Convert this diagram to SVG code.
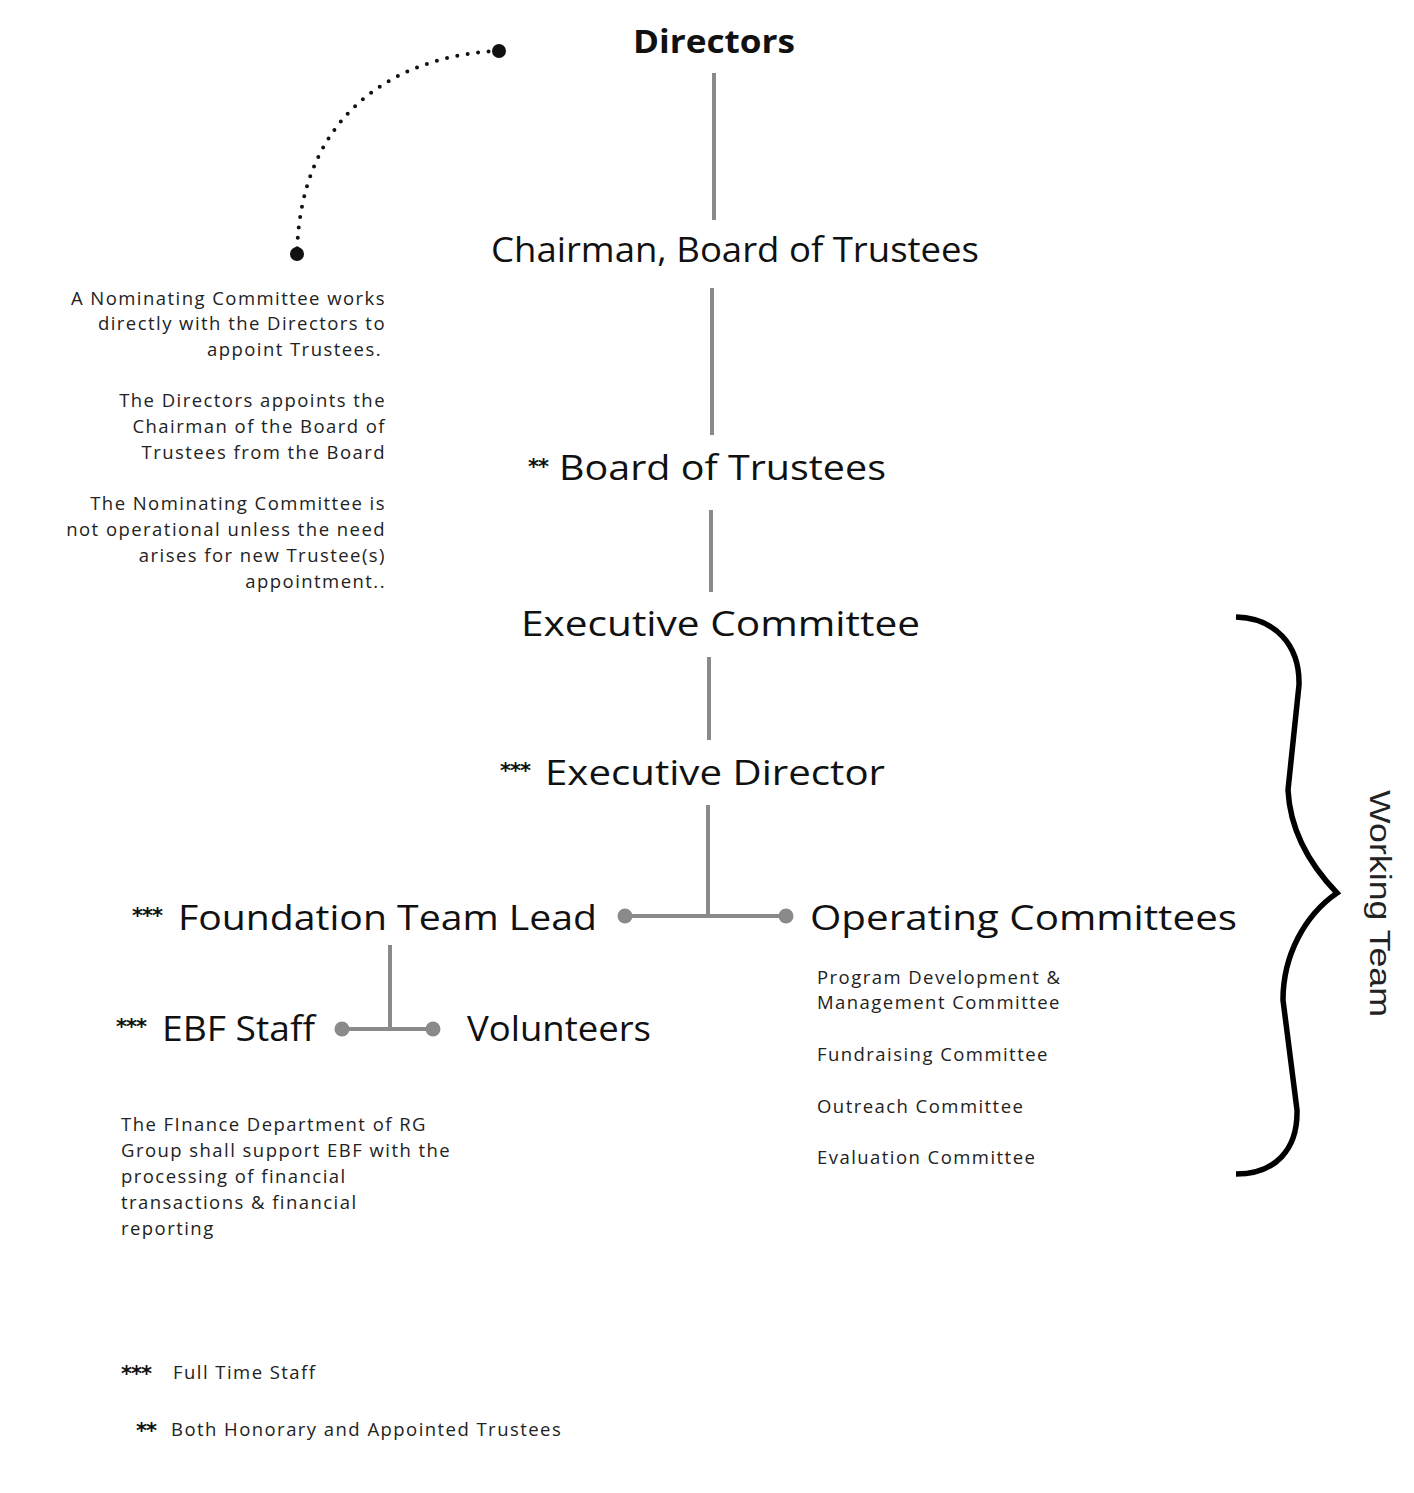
<svg xmlns="http://www.w3.org/2000/svg" width="1414" height="1493" viewBox="0 0 1414 1493">
<style>
.t{font-family:"Open Sans","DejaVu Sans",sans-serif;fill:#111}
.big{font-size:35px}
.note{font-size:18.5px;fill:#222;letter-spacing:1.45px}
.ast{font-family:"DejaVu Sans",sans-serif;font-weight:bold;font-size:21px;fill:#111;letter-spacing:-1px}
.ln{stroke:#8a8a8a;stroke-width:4;fill:none}
.dot{fill:#8a8a8a}
</style>
<rect width="1414" height="1493" fill="#fff"/>
<g id="connectors">
<line class="ln" x1="714" y1="73" x2="714" y2="220"/>
<line class="ln" x1="712" y1="288" x2="712" y2="435"/>
<line class="ln" x1="711" y1="510" x2="711" y2="592"/>
<line class="ln" x1="709" y1="657" x2="709" y2="740"/>
<line class="ln" x1="708" y1="805" x2="708" y2="916"/>
<line class="ln" x1="625" y1="916" x2="786" y2="916"/>
<circle class="dot" cx="625" cy="916" r="7.5"/>
<circle class="dot" cx="786" cy="916" r="7.5"/>
<line class="ln" x1="390" y1="945" x2="390" y2="1029"/>
<line class="ln" x1="342" y1="1029" x2="433" y2="1029"/>
<circle class="dot" cx="342" cy="1029" r="7.5"/>
<circle class="dot" cx="433" cy="1029" r="7.5"/>
<path d="M499,51 C400,55 300,110 297,254" fill="none" stroke="#111" stroke-width="4" stroke-linecap="round" stroke-dasharray="0 10.5"/>
<circle cx="499" cy="51" r="7" fill="#111"/>
<circle cx="297" cy="254" r="7" fill="#111"/>
</g>
<g id="directors"><text class="t" x="714" y="53" font-size="32" font-weight="bold" text-anchor="middle" textLength="162" lengthAdjust="spacingAndGlyphs">Directors</text></g>
<g id="chairman"><text class="t big" x="491" y="262" textLength="488" lengthAdjust="spacingAndGlyphs">Chairman, Board of Trustees</text></g>
<g id="board"><text class="ast" x="528" y="474">**</text><text class="t big" x="559" y="480" textLength="327" lengthAdjust="spacingAndGlyphs">Board of Trustees</text></g>
<g id="exec-committee"><text class="t big" x="521" y="636" textLength="399" lengthAdjust="spacingAndGlyphs">Executive Committee</text></g>
<g id="exec-director"><text class="ast" x="500" y="778">***</text><text class="t big" x="545" y="785" textLength="340" lengthAdjust="spacingAndGlyphs">Executive Director</text></g>
<g id="foundation-lead"><text class="ast" x="132" y="923">***</text><text class="t big" x="178" y="930" textLength="419" lengthAdjust="spacingAndGlyphs">Foundation Team Lead</text></g>
<g id="operating"><text class="t big" x="810" y="930" textLength="427" lengthAdjust="spacingAndGlyphs">Operating Committees</text>
<text class="t note" x="817" y="984">Program Development &amp;</text>
<text class="t note" x="817" y="1009">Management Committee</text>
<text class="t note" x="817" y="1061">Fundraising Committee</text>
<text class="t note" x="817" y="1113">Outreach Committee</text>
<text class="t note" x="817" y="1164">Evaluation Committee</text></g>
<g id="ebf-staff"><text class="ast" x="116" y="1034">***</text><text class="t big" x="162" y="1041" textLength="153" lengthAdjust="spacingAndGlyphs">EBF Staff</text></g>
<g id="volunteers"><text class="t big" x="467" y="1041" textLength="184" lengthAdjust="spacingAndGlyphs">Volunteers</text></g>
<g id="nominating-note" text-anchor="end">
<text class="t note" x="386" y="305">A Nominating Committee works</text>
<text class="t note" x="386" y="330">directly with the Directors to</text>
<text class="t note" x="382" y="356">appoint Trustees.</text>
<text class="t note" x="386" y="407">The Directors appoints the</text>
<text class="t note" x="386" y="433">Chairman of the Board of</text>
<text class="t note" x="386" y="459">Trustees from the Board</text>
<text class="t note" x="386" y="510">The Nominating Committee is</text>
<text class="t note" x="386" y="536">not operational unless the need</text>
<text class="t note" x="386" y="562">arises for new Trustee(s)</text>
<text class="t note" x="386" y="588">appointment..</text>
</g>
<g id="finance-note">
<text class="t note" x="121" y="1131">The FInance Department of RG</text>
<text class="t note" x="121" y="1157">Group shall support EBF with the</text>
<text class="t note" x="121" y="1183">processing of financial</text>
<text class="t note" x="121" y="1209">transactions &amp; financial</text>
<text class="t note" x="121" y="1235">reporting</text>
</g>
<g id="working-team">
<path d="M1236,617 C1275,618 1300,645 1299,685 L1288,790 C1290,830 1310,865 1337,893 C1305,915 1283,955 1283,1000 L1297,1110 C1298,1150 1275,1174 1236,1174" fill="none" stroke="#000" stroke-width="5.5"/>
<text x="1370" y="790" transform="rotate(90 1370 790)" font-family="Liberation Sans,Arial,sans-serif" font-size="29" fill="#222" textLength="227" lengthAdjust="spacingAndGlyphs">Working Team</text>
</g>
<g id="legend">
<text class="ast" x="121" y="1381" font-size="23">***</text>
<text class="t note" x="173" y="1379">Full Time Staff</text>
<text class="ast" x="136" y="1438" font-size="23">**</text>
<text class="t note" x="171" y="1436">Both Honorary and Appointed Trustees</text>
</g>
</svg>
